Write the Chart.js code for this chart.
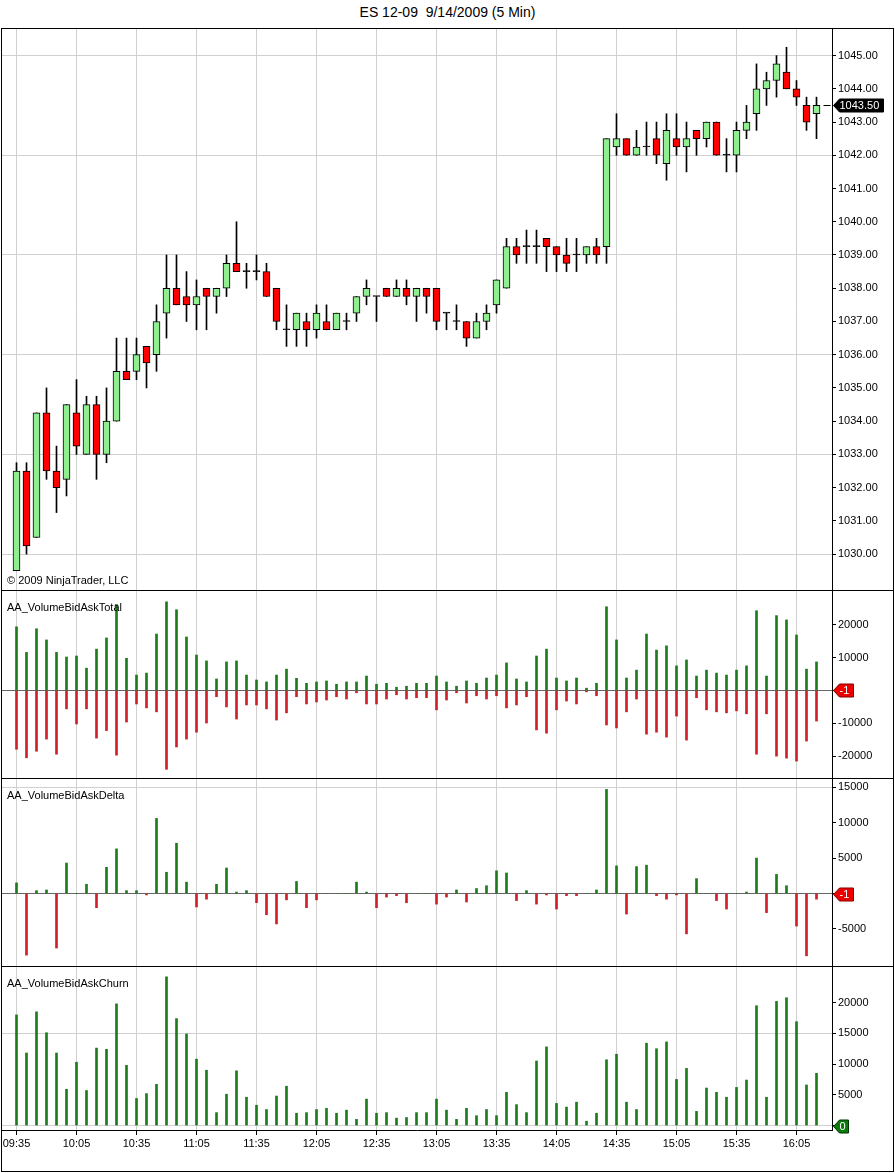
<!DOCTYPE html>
<html lang="en">
<head>
  <meta charset="UTF-8" />
  <title>ES 12-09 9/14/2009 (5 Min)</title>
  <script src="https://cdn.jsdelivr.net/npm/chart.js"></script>
  <style>
    body {
      margin: 0;
      background: #fff;
      font-family: 'Liberation Sans', Arial, sans-serif;
      color: #000;
    }
    #wrap {
      position: relative;
      width: 895px;
      height: 1173px;
      overflow: hidden;
    }
    #title {
      position: absolute;
      top: 4px;
      left: 0;
      width: 895px;
      text-align: center;
      font-size: 14px;
      white-space: pre;
    }
    canvas {
      position: absolute;
      left: 2px;
    }
    #frame {
      position: absolute;
      left: 1px;
      top: 28px;
      width: 893px;
      height: 1144px;
      box-sizing: border-box;
      border: 1px solid #000;
      pointer-events: none;
    }
    .sep {
      position: absolute;
      left: 1px;
      width: 893px;
      height: 1px;
      background: #000;
    }
    .lbl {
      position: absolute;
      left: 7px;
      font-size: 11px;
      white-space: pre;
    }
  </style>
</head>
<body>
<div id="wrap">
  <div id="title">ES 12-09  9/14/2009 (5 Min)</div>

  <canvas id="cPrice" width="892" height="561" style="top:29px"></canvas>
  <canvas id="cTotal" width="892" height="187" style="top:591px"></canvas>
  <canvas id="cDelta" width="892" height="187" style="top:779px"></canvas>
  <canvas id="cChurn" width="892" height="204" style="top:967px"></canvas>

  <div id="frame"></div>
  <div class="sep" style="top:590px"></div>
  <div class="sep" style="top:778px"></div>
  <div class="sep" style="top:966px"></div>

  <div class="lbl" style="top:574px">© 2009 NinjaTrader, LLC</div>
  <div class="lbl" style="top:601px">AA_VolumeBidAskTotal</div>
  <div class="lbl" style="top:789px">AA_VolumeBidAskDelta</div>
  <div class="lbl" style="top:977px">AA_VolumeBidAskChurn</div>
</div>

<script>
  // 5 minute bars, 09:35 .. 16:15
  const timeLabels = ['09:35', '10:05', '10:35', '11:05', '11:35', '12:05', '12:35',
                      '13:05', '13:35', '14:05', '14:35', '15:05', '15:35', '16:05'];
  const timeTickIdx = [0, 6, 12, 18, 24, 30, 36, 42, 48, 54, 60, 66, 72, 78];

  const opens = [
    1029.5, 1032.5, 1030.5, 1034.25, 1032.5, 1032.25, 1034.25, 1033.0, 1034.5, 1033.0,
    1034.0, 1035.5, 1035.5, 1036.25, 1036.0, 1037.25, 1038.0, 1037.75, 1037.5, 1038.0,
    1037.75, 1038.0, 1038.75, 1038.5, 1038.5, 1038.5, 1038.0, 1036.75, 1036.75, 1037.0,
    1036.75, 1037.0, 1036.75, 1037.0, 1037.25, 1037.75, 1037.75, 1038.0, 1037.75, 1038.0,
    1037.75, 1038.0, 1038.0, 1037.25, 1037.0, 1037.0, 1036.5, 1037.0, 1037.5, 1038.0,
    1039.25, 1039.25, 1039.25, 1039.5, 1039.25, 1039.0, 1039.0, 1039.0, 1039.25, 1039.25,
    1042.25, 1042.5, 1042.0, 1042.25, 1042.5, 1041.75, 1042.5, 1042.25, 1042.75, 1042.5,
    1043.0, 1042.0, 1042.0, 1042.75, 1043.25, 1044.0, 1044.25, 1044.5, 1044.0, 1043.5,
    1043.25
  ];
  const highs = [
    1032.75, 1032.75, 1034.25, 1035.0, 1033.25, 1034.5, 1035.25, 1034.75, 1034.75, 1035.0,
    1036.5, 1036.5, 1036.5, 1036.25, 1037.5, 1039.0, 1039.0, 1038.5, 1038.25, 1038.0,
    1038.0, 1039.0, 1040.0, 1038.75, 1039.0, 1038.75, 1038.0, 1037.5, 1037.25, 1037.25,
    1037.5, 1037.5, 1037.25, 1037.25, 1037.75, 1038.25, 1037.75, 1038.0, 1038.25, 1038.25,
    1038.0, 1038.0, 1038.0, 1037.25, 1037.5, 1037.0, 1037.25, 1037.5, 1038.25, 1039.5,
    1039.5, 1039.75, 1039.75, 1039.5, 1039.25, 1039.5, 1039.5, 1039.25, 1039.5, 1042.5,
    1043.25, 1042.5, 1042.75, 1043.0, 1043.0, 1043.25, 1043.25, 1043.0, 1042.75, 1043.0,
    1043.0, 1042.5, 1043.0, 1043.5, 1044.75, 1044.5, 1045.0, 1045.25, 1044.25, 1043.75,
    1043.75
  ];
  const lows = [
    1029.5, 1030.0, 1030.5, 1032.25, 1031.25, 1031.75, 1033.0, 1033.0, 1032.25, 1032.75,
    1034.0, 1035.25, 1035.25, 1035.0, 1035.5, 1036.5, 1037.5, 1037.0, 1036.75, 1036.75,
    1037.25, 1037.75, 1038.5, 1038.0, 1038.25, 1037.75, 1036.75, 1036.25, 1036.25, 1036.25,
    1036.5, 1036.75, 1036.75, 1036.75, 1037.0, 1037.5, 1037.0, 1037.75, 1037.75, 1037.5,
    1037.0, 1037.25, 1036.75, 1036.75, 1036.75, 1036.25, 1036.5, 1036.75, 1037.25, 1038.0,
    1038.75, 1038.75, 1038.75, 1038.5, 1038.5, 1038.5, 1038.5, 1038.75, 1038.75, 1038.75,
    1042.0, 1042.0, 1042.0, 1042.0, 1041.75, 1041.25, 1042.0, 1041.5, 1042.0, 1042.25,
    1042.0, 1041.5, 1041.5, 1042.5, 1042.75, 1043.5, 1043.75, 1044.0, 1043.5, 1042.75,
    1042.5
  ];
  const closes = [
    1032.5, 1030.25, 1034.25, 1032.5, 1032.0, 1034.5, 1033.25, 1034.5, 1033.0, 1034.0,
    1035.5, 1035.25, 1036.0, 1035.75, 1037.0, 1038.0, 1037.5, 1037.5, 1037.75, 1037.75,
    1038.0, 1038.75, 1038.5, 1038.5, 1038.5, 1037.75, 1037.0, 1036.75, 1037.25, 1036.75,
    1037.25, 1036.75, 1037.25, 1037.0, 1037.75, 1038.0, 1037.75, 1037.75, 1038.0, 1037.75,
    1038.0, 1037.75, 1037.0, 1037.25, 1037.0, 1036.5, 1037.0, 1037.25, 1038.25, 1039.25,
    1039.0, 1039.25, 1039.25, 1039.25, 1039.0, 1038.75, 1039.0, 1039.25, 1039.0, 1042.5,
    1042.5, 1042.0, 1042.25, 1042.25, 1042.0, 1042.75, 1042.25, 1042.5, 1042.5, 1043.0,
    1042.0, 1042.0, 1042.75, 1043.0, 1044.0, 1044.25, 1044.75, 1044.0, 1043.75, 1043.0,
    1043.5
  ];

  // AA_VolumeBidAskTotal: ask volume up, bid volume down
  const askVolume = [
    19400, 11600, 18800, 15400, 11600, 10200, 10500, 6800, 12600, 16000,
    26200, 9800, 4700, 5300, 17200, 27000, 24600, 16300, 10800, 9000,
    3500, 8700, 9000, 4700, 3200, 2600, 4700, 6500, 3700, 2200,
    2600, 2900, 1900, 2600, 2600, 4400, 1900, 2200, 1000, 1300,
    2200, 2200, 4400, 2600, 1300, 2900, 2200, 3800, 4700, 8400,
    3500, 2600, 10500, 12600, 3800, 2900, 3800, 700, 2200, 25500,
    15400, 3800, 6200, 17200, 12300, 13600, 7500, 9300, 4400, 6200,
    5300, 4700, 6200, 7500, 24300, 4400, 22800, 21500, 16900, 6500,
    8700
  ];
  const bidVolume = [
    -17900, -20500, -18500, -14800, -19400, -5600, -10200, -5600, -14500, -12200,
    -19700, -9600, -4100, -5300, -6500, -24000, -17200, -14800, -12700, -9900,
    -1900, -5000, -8700, -4400, -4400, -5600, -9000, -6800, -1900, -4100,
    -3500, -2900, -1900, -2600, -700, -4100, -4100, -2600, -1300, -2600,
    -2200, -2200, -5900, -2900, -700, -3800, -1600, -2600, -1600, -5300,
    -4400, -1900, -12000, -13000, -5900, -3200, -4100, -400, -1600, -10500,
    -11400, -6500, -2600, -13300, -12700, -14200, -7800, -15100, -2200, -5900,
    -6500, -6800, -6200, -7100, -19400, -7100, -20000, -20600, -21500, -15400,
    -9300
  ];
  // AA_VolumeBidAskDelta
  const deltaVolume = [
    1500, -8700, 400, 500, -7700, 4300, 0, 1300, -2000, 3700,
    6300, 400, 400, -200, 10600, 3000, 7100, 1600, -1900, -800,
    1300, 3600, 200, 400, -1300, -3000, -4300, -900, 1700, -2000,
    -900, 0, 0, 0, 1600, 200, -2000, -500, -300, -1300,
    0, 0, -1500, -500, 500, -1200, 700, 1100, 3200, 2900,
    -1000, 400, -1500, -200, -2200, -300, -300, 0, 500, 14700,
    3900, -2900, 3800, 4000, -300, -800, -200, -5700, 2100, 0,
    -1000, -2200, 0, 200, 5000, -2700, 2700, 1100, -4600, -8800,
    -800
  ];
  // AA_VolumeBidAskChurn
  const churnVolume = [
    18000, 11800, 18500, 15100, 11800, 5900, 10300, 5700, 12600, 12400,
    19800, 9800, 4400, 5200, 6700, 24200, 17400, 14900, 10800, 9000,
    2100, 5100, 8900, 4600, 3300, 2600, 4800, 6400, 2000, 2100,
    2600, 2800, 2000, 2500, 1000, 4300, 2000, 2100, 1200, 1300,
    2100, 2100, 4300, 2500, 1000, 2800, 1600, 2600, 1600, 5400,
    3400, 2100, 10500, 12800, 3600, 3000, 3800, 700, 2000, 10700,
    11600, 3800, 2600, 13400, 12500, 13600, 7500, 9300, 2300, 6100,
    5400, 4600, 6200, 7400, 19500, 4600, 20200, 20800, 16900, 6600,
    8500
  ];

  const priceTicks = [1030, 1031, 1032, 1033, 1034, 1035, 1036, 1037, 1038, 1039, 1040, 1041, 1042, 1043, 1044, 1045];
  const totalTicks = [-20000, -10000, 0, 10000, 20000];
  const deltaTicks = [-5000, 0, 5000, 10000, 15000];
  const churnTicks = [0, 5000, 10000, 15000, 20000];

  const lastTotal = -1;
  const lastDelta = -1;
  const lastChurn = 0;

  const GREEN = '#1c7c1c';
  const RED = '#d01f28';
  const GRID = '#d0d0d0';
  const FONT = { family: "'Liberation Sans', Arial, sans-serif", size: 11 };

  const pts = arr => arr.map((v, i) => ({ x: i, y: v }));

  // right side value tag, like the ones NinjaTrader puts on the price axis
  function tag(value, text, fill, stroke, w, dash) {
    return {
      id: 'tag',
      afterDraw(chart) {
        const c = chart.ctx;
        const y = Math.round(chart.scales.y.getPixelForValue(value)) + 0.5;
        const x = chart.chartArea.right + 1.5;
        c.save();
        if (dash) {
          c.strokeStyle = '#000';
          c.lineWidth = 1;
          c.beginPath();
          c.moveTo(x - 10, y);
          c.lineTo(x - 3, y);
          c.stroke();
        }
        c.beginPath();
        c.moveTo(x, y);
        c.lineTo(x + 6, y - 6.5);
        c.lineTo(x + w, y - 6.5);
        c.lineTo(x + w, y + 6.5);
        c.lineTo(x + 6, y + 6.5);
        c.closePath();
        c.fillStyle = fill;
        c.fill();
        c.strokeStyle = stroke;
        c.stroke();
        c.fillStyle = '#fff';
        c.font = "11px 'Liberation Sans', Arial, sans-serif";
        c.textBaseline = 'middle';
        c.fillText(text, x + 6, y + 0.5);
        c.restore();
      }
    };
  }

  function makeOptions(yMin, yMax, yTicks, gridColor, labelFn, showTime) {
    return {
      responsive: false,
      animation: false,
      devicePixelRatio: 1,
      layout: { padding: 0 },
      plugins: { legend: { display: false }, tooltip: { enabled: false } },
      scales: {
        x: {
          type: 'linear',
          min: -1.45,
          max: 81.55,
          offset: false,
          afterBuildTicks: s => { s.ticks = timeTickIdx.map(v => ({ value: v })); },
          afterFit: s => {
            s.height = showTime ? 41 : 0;
            s.paddingLeft = 0;
            s.paddingRight = 0;
          },
          grid: { color: GRID, offset: false, drawTicks: showTime, tickLength: 5, tickColor: '#000' },
          border: { display: showTime, color: '#000' },
          ticks: {
            display: showTime,
            autoSkip: false,
            maxRotation: 0,
            padding: 2,
            color: '#000',
            font: FONT,
            callback: (v, i) => timeLabels[i]
          }
        },
        y: {
          position: 'right',
          min: yMin,
          max: yMax,
          afterBuildTicks: s => { s.ticks = yTicks.map(v => ({ value: v })); },
          afterFit: s => {
            s.width = 62;
            s.paddingTop = 0;
            s.paddingBottom = 0;
          },
          border: { color: '#000' },
          grid: { color: c => gridColor(c.tick.value), tickLength: 4, tickColor: '#000' },
          ticks: { padding: 2, color: '#000', font: FONT, callback: labelFn }
        }
      }
    };
  }

  // price pane: floating bars for wicks and bodies
  const bodyColors = opens.map((o, i) =>
    closes[i] > o ? '#90ee90' : closes[i] < o ? '#ff0000' : '#000');

  new Chart(document.getElementById('cPrice'), {
    type: 'bar',
    data: {
      datasets: [
        {
          data: opens.map((o, i) => ({ x: i, y: [o, closes[i]] })),
          backgroundColor: bodyColors,
          borderColor: '#000',
          borderWidth: 1,
          borderSkipped: false,
          minBarLength: 1,
          barThickness: 7,
          grouped: false
        },
        {
          data: lows.map((l, i) => ({ x: i, y: [l, highs[i]] })),
          backgroundColor: '#000',
          borderWidth: 0,
          barThickness: 1,
          grouped: false
        }
      ]
    },
    options: makeOptions(1028.92, 1045.8, priceTicks,
      v => ((v - 1030) % 3 === 0 ? GRID : 'rgba(0,0,0,0)'),
      v => v.toFixed(2), false),
    plugins: [tag(closes[closes.length - 1], closes[closes.length - 1].toFixed(2), '#000', '#000', 50, true)]
  });

  new Chart(document.getElementById('cTotal'), {
    type: 'bar',
    data: {
      datasets: [
        { data: pts(askVolume), backgroundColor: GREEN, barThickness: 2, grouped: false },
        { data: pts(bidVolume), backgroundColor: RED, barThickness: 2, grouped: false }
      ]
    },
    options: makeOptions(-26650, 30300, totalTicks,
      v => (v === 0 ? '#666' : 'rgba(0,0,0,0)'),
      v => (v === 0 ? '' : v), false),
    plugins: [tag(lastTotal, String(lastTotal), '#ee0000', '#800000', 20, false)]
  });

  new Chart(document.getElementById('cDelta'), {
    type: 'bar',
    data: {
      datasets: [
        {
          data: pts(deltaVolume),
          backgroundColor: deltaVolume.map(v => (v >= 0 ? GREEN : RED)),
          barThickness: 2,
          grouped: false
        }
      ]
    },
    options: makeOptions(-10240, 16170, deltaTicks,
      v => (v === 0 ? '#666' : v === 15000 ? GRID : 'rgba(0,0,0,0)'),
      v => (v === 0 ? '' : v), false),
    plugins: [tag(lastDelta, String(lastDelta), '#ee0000', '#800000', 20, false)]
  });

  new Chart(document.getElementById('cChurn'), {
    type: 'bar',
    data: {
      datasets: [
        { data: pts(churnVolume), backgroundColor: GREEN, barThickness: 2, grouped: false }
      ]
    },
    options: makeOptions(-730, 25800, churnTicks,
      v => (v % 15000 === 0 ? GRID : 'rgba(0,0,0,0)'),
      v => (v === 0 ? '' : v), true),
    plugins: [tag(lastChurn, String(lastChurn), '#0a7a0a', '#003300', 15, false)]
  });
</script>
</body>
</html>
